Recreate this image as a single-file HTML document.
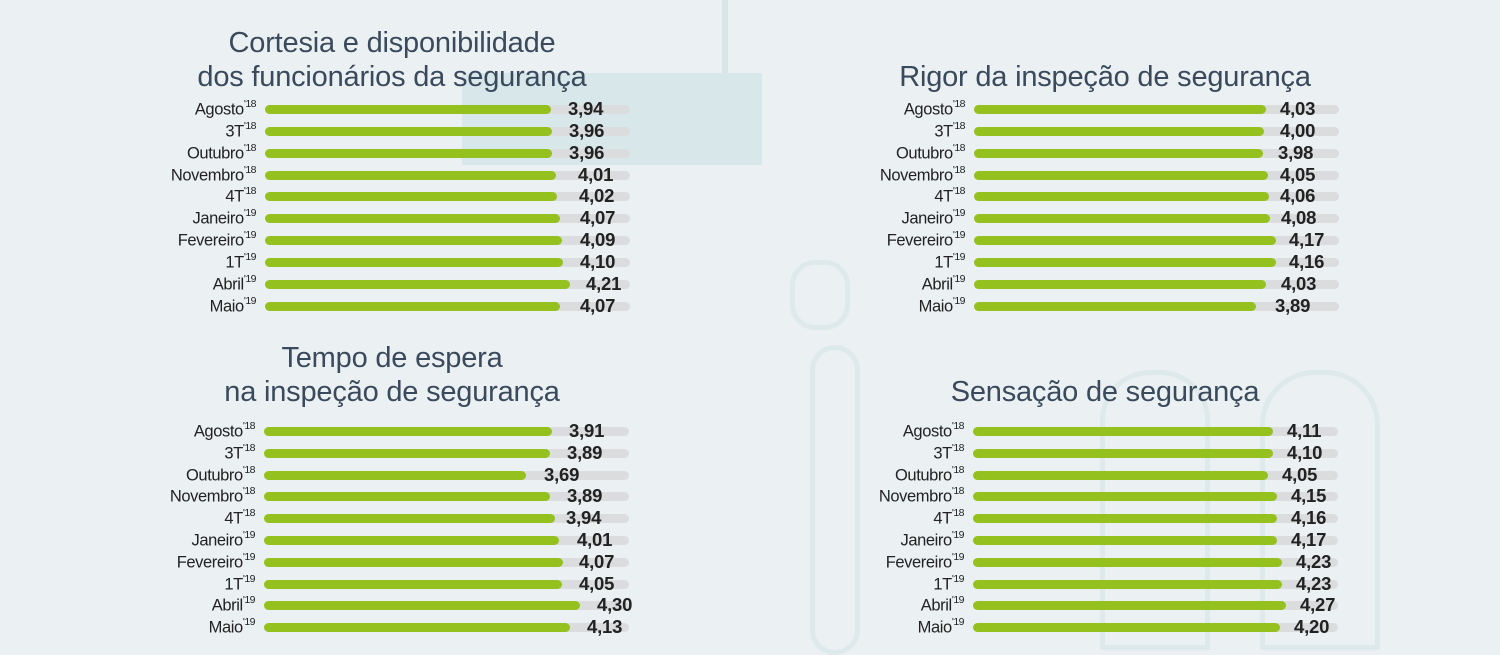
<!DOCTYPE html>
<html><head><meta charset="utf-8"><style>
body{margin:0;width:1500px;height:650px;background:#ebf0f3;position:relative;overflow:hidden;font-family:"Liberation Sans",sans-serif;}
.deco{position:absolute;border:5px solid #dce8e9;}
.t{position:absolute;width:600px;text-align:center;font-size:29px;color:#3a4a5c;font-weight:normal;line-height:34px;letter-spacing:-0.2px}
.p{position:absolute;width:700px;height:10px}
.r{position:absolute;left:0;height:22px;width:700px}
.l{position:absolute;right:444px;top:1px;font-size:16.5px;color:#222;white-space:nowrap;letter-spacing:-0.4px}
.l sup{font-size:10.5px;position:relative;top:-1px;letter-spacing:-0.5px}
.k{position:absolute;left:265px;top:7px;width:365px;height:9px;border-radius:5px;background:#dadcdd}
.g{position:absolute;left:265px;top:7px;height:9px;border-radius:5px;background:#95c11f}
.v{position:absolute;top:0px;font-size:18.5px;font-weight:bold;color:#222;letter-spacing:-0.2px}
</style></head><body>
<div style="position:absolute;left:462px;top:73px;width:300px;height:92px;background:#d8e7ea"></div>
<div style="position:absolute;left:722px;top:0;width:6px;height:73px;background:#d8e6e8"></div>
<div class="deco" style="left:810px;top:345px;width:40px;height:300px;border-radius:25px;border-color:#dde9ea"></div>
<div class="deco" style="left:1100px;top:370px;width:100px;height:270px;border-radius:50px 50px 0 0;border-color:#dde9ea"></div>
<div class="deco" style="left:1260px;top:370px;width:110px;height:270px;border-radius:55px 55px 0 0;border-color:#dde9ea"></div>
<div class="deco" style="left:790px;top:260px;width:50px;height:60px;border-radius:25px;border-color:#dde9ea"></div>

<div class="t" style="left:92px;top:26px">Cortesia e disponibilidade<br>dos funcionários da segurança</div>
<div class="t" style="left:805px;top:60px">Rigor da inspeção de segurança</div>
<div class="t" style="left:92px;top:341px">Tempo de espera<br>na inspeção de segurança</div>
<div class="t" style="left:805px;top:375px">Sensação de segurança</div>

<div class="p" style="left:0;top:98px">
<div class="r" style="top:0"><span class="l">Agosto<sup>'18</sup></span><div class="k"></div><div class="g" style="width:286px"></div><span class="v" style="left:568px">3,94</span></div>
<div class="r" style="top:22px"><span class="l">3T<sup>'18</sup></span><div class="k"></div><div class="g" style="width:287px"></div><span class="v" style="left:569px">3,96</span></div>
<div class="r" style="top:44px"><span class="l">Outubro<sup>'18</sup></span><div class="k"></div><div class="g" style="width:287px"></div><span class="v" style="left:569px">3,96</span></div>
<div class="r" style="top:66px"><span class="l">Novembro<sup>'18</sup></span><div class="k"></div><div class="g" style="width:291px"></div><span class="v" style="left:578px">4,01</span></div>
<div class="r" style="top:87px"><span class="l">4T<sup>'18</sup></span><div class="k"></div><div class="g" style="width:292px"></div><span class="v" style="left:579px">4,02</span></div>
<div class="r" style="top:109px"><span class="l">Janeiro<sup>'19</sup></span><div class="k"></div><div class="g" style="width:295px"></div><span class="v" style="left:580px">4,07</span></div>
<div class="r" style="top:131px"><span class="l">Fevereiro<sup>'19</sup></span><div class="k"></div><div class="g" style="width:297px"></div><span class="v" style="left:580px">4,09</span></div>
<div class="r" style="top:153px"><span class="l">1T<sup>'19</sup></span><div class="k"></div><div class="g" style="width:298px"></div><span class="v" style="left:580px">4,10</span></div>
<div class="r" style="top:175px"><span class="l">Abril<sup>'19</sup></span><div class="k"></div><div class="g" style="width:305px"></div><span class="v" style="left:586px">4,21</span></div>
<div class="r" style="top:197px"><span class="l">Maio<sup>'19</sup></span><div class="k"></div><div class="g" style="width:295px"></div><span class="v" style="left:580px">4,07</span></div>
</div>

<div class="p" style="left:709px;top:98px">
<div class="r" style="top:0"><span class="l">Agosto<sup>'18</sup></span><div class="k"></div><div class="g" style="width:292px"></div><span class="v" style="left:571px">4,03</span></div>
<div class="r" style="top:22px"><span class="l">3T<sup>'18</sup></span><div class="k"></div><div class="g" style="width:290px"></div><span class="v" style="left:571px">4,00</span></div>
<div class="r" style="top:44px"><span class="l">Outubro<sup>'18</sup></span><div class="k"></div><div class="g" style="width:289px"></div><span class="v" style="left:569px">3,98</span></div>
<div class="r" style="top:66px"><span class="l">Novembro<sup>'18</sup></span><div class="k"></div><div class="g" style="width:294px"></div><span class="v" style="left:571px">4,05</span></div>
<div class="r" style="top:87px"><span class="l">4T<sup>'18</sup></span><div class="k"></div><div class="g" style="width:295px"></div><span class="v" style="left:571px">4,06</span></div>
<div class="r" style="top:109px"><span class="l">Janeiro<sup>'19</sup></span><div class="k"></div><div class="g" style="width:296px"></div><span class="v" style="left:572px">4,08</span></div>
<div class="r" style="top:131px"><span class="l">Fevereiro<sup>'19</sup></span><div class="k"></div><div class="g" style="width:302px"></div><span class="v" style="left:580px">4,17</span></div>
<div class="r" style="top:153px"><span class="l">1T<sup>'19</sup></span><div class="k"></div><div class="g" style="width:302px"></div><span class="v" style="left:580px">4,16</span></div>
<div class="r" style="top:175px"><span class="l">Abril<sup>'19</sup></span><div class="k"></div><div class="g" style="width:292px"></div><span class="v" style="left:572px">4,03</span></div>
<div class="r" style="top:197px"><span class="l">Maio<sup>'19</sup></span><div class="k"></div><div class="g" style="width:282px"></div><span class="v" style="left:566px">3,89</span></div>
</div>

<div class="p" style="left:-1px;top:420px">
<div class="r" style="top:0"><span class="l">Agosto<sup>'18</sup></span><div class="k"></div><div class="g" style="width:288px"></div><span class="v" style="left:570px">3,91</span></div>
<div class="r" style="top:22px"><span class="l">3T<sup>'18</sup></span><div class="k"></div><div class="g" style="width:286px"></div><span class="v" style="left:568px">3,89</span></div>
<div class="r" style="top:44px"><span class="l">Outubro<sup>'18</sup></span><div class="k"></div><div class="g" style="width:262px"></div><span class="v" style="left:545px">3,69</span></div>
<div class="r" style="top:65px"><span class="l">Novembro<sup>'18</sup></span><div class="k"></div><div class="g" style="width:286px"></div><span class="v" style="left:568px">3,89</span></div>
<div class="r" style="top:87px"><span class="l">4T<sup>'18</sup></span><div class="k"></div><div class="g" style="width:291px"></div><span class="v" style="left:567px">3,94</span></div>
<div class="r" style="top:109px"><span class="l">Janeiro<sup>'19</sup></span><div class="k"></div><div class="g" style="width:295px"></div><span class="v" style="left:578px">4,01</span></div>
<div class="r" style="top:131px"><span class="l">Fevereiro<sup>'19</sup></span><div class="k"></div><div class="g" style="width:299px"></div><span class="v" style="left:580px">4,07</span></div>
<div class="r" style="top:153px"><span class="l">1T<sup>'19</sup></span><div class="k"></div><div class="g" style="width:298px"></div><span class="v" style="left:580px">4,05</span></div>
<div class="r" style="top:174px"><span class="l">Abril<sup>'19</sup></span><div class="k"></div><div class="g" style="width:316px"></div><span class="v" style="left:598px">4,30</span></div>
<div class="r" style="top:196px"><span class="l">Maio<sup>'19</sup></span><div class="k"></div><div class="g" style="width:306px"></div><span class="v" style="left:588px">4,13</span></div>
</div>

<div class="p" style="left:708px;top:420px">
<div class="r" style="top:0"><span class="l">Agosto<sup>'18</sup></span><div class="k"></div><div class="g" style="width:300px"></div><span class="v" style="left:579px">4,11</span></div>
<div class="r" style="top:22px"><span class="l">3T<sup>'18</sup></span><div class="k"></div><div class="g" style="width:300px"></div><span class="v" style="left:579px">4,10</span></div>
<div class="r" style="top:44px"><span class="l">Outubro<sup>'18</sup></span><div class="k"></div><div class="g" style="width:295px"></div><span class="v" style="left:574px">4,05</span></div>
<div class="r" style="top:65px"><span class="l">Novembro<sup>'18</sup></span><div class="k"></div><div class="g" style="width:304px"></div><span class="v" style="left:583px">4,15</span></div>
<div class="r" style="top:87px"><span class="l">4T<sup>'18</sup></span><div class="k"></div><div class="g" style="width:304px"></div><span class="v" style="left:583px">4,16</span></div>
<div class="r" style="top:109px"><span class="l">Janeiro<sup>'19</sup></span><div class="k"></div><div class="g" style="width:304px"></div><span class="v" style="left:583px">4,17</span></div>
<div class="r" style="top:131px"><span class="l">Fevereiro<sup>'19</sup></span><div class="k"></div><div class="g" style="width:309px"></div><span class="v" style="left:588px">4,23</span></div>
<div class="r" style="top:153px"><span class="l">1T<sup>'19</sup></span><div class="k"></div><div class="g" style="width:309px"></div><span class="v" style="left:588px">4,23</span></div>
<div class="r" style="top:174px"><span class="l">Abril<sup>'19</sup></span><div class="k"></div><div class="g" style="width:313px"></div><span class="v" style="left:592px">4,27</span></div>
<div class="r" style="top:196px"><span class="l">Maio<sup>'19</sup></span><div class="k"></div><div class="g" style="width:307px"></div><span class="v" style="left:586px">4,20</span></div>
</div>
</body></html>
